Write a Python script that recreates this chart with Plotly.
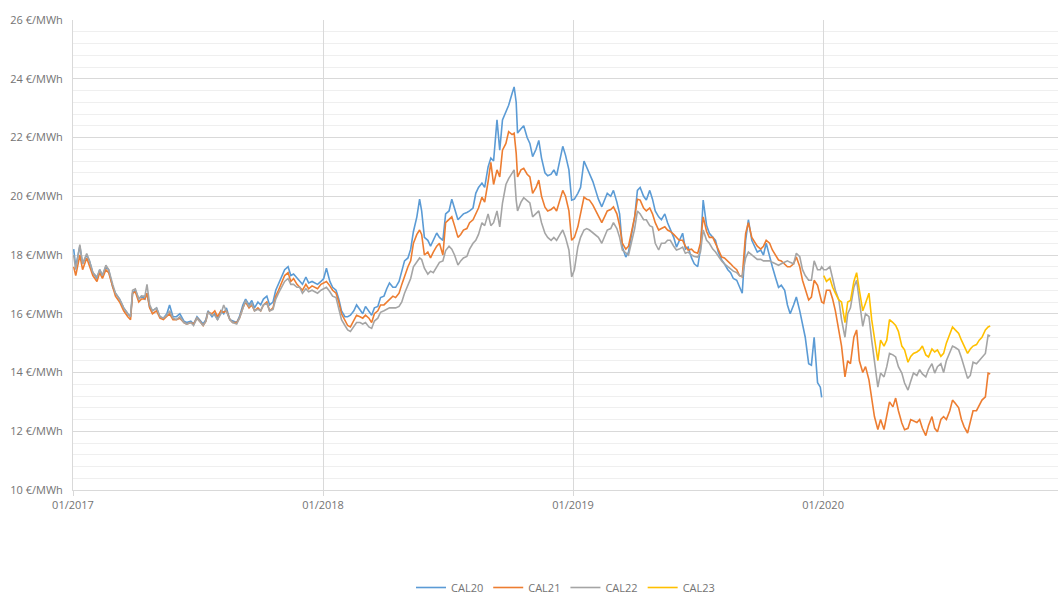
import plotly.graph_objects as go

# ---------------- data ----------------
dates_2017 = [
    "2017-01-02", "2017-01-05", "2017-01-11", "2017-01-15", "2017-01-21", "2017-01-25", "2017-01-30", "2017-02-05", "2017-02-09", "2017-02-13",
    "2017-02-18", "2017-02-22", "2017-02-28", "2017-03-04", "2017-03-10", "2017-03-16", "2017-03-22", "2017-03-26", "2017-03-29", "2017-04-02",
    "2017-04-07", "2017-04-11", "2017-04-16", "2017-04-19", "2017-04-23", "2017-04-27", "2017-05-03", "2017-05-08", "2017-05-13", "2017-05-18",
    "2017-05-22", "2017-05-27", "2017-06-01", "2017-06-06", "2017-06-12", "2017-06-16", "2017-06-22", "2017-06-26", "2017-07-01", "2017-07-05",
    "2017-07-10", "2017-07-14", "2017-07-17", "2017-07-23", "2017-07-27", "2017-07-31", "2017-08-05", "2017-08-09", "2017-08-13", "2017-08-18",
    "2017-08-22", "2017-08-28", "2017-09-01", "2017-09-06", "2017-09-10", "2017-09-15", "2017-09-19", "2017-09-23", "2017-09-28", "2017-10-02",
    "2017-10-06", "2017-10-11", "2017-10-15", "2017-10-20", "2017-10-24", "2017-10-28", "2017-11-02", "2017-11-06", "2017-11-11", "2017-11-15",
    "2017-11-19", "2017-11-24", "2017-11-28", "2017-12-02", "2017-12-07", "2017-12-11", "2017-12-16", "2017-12-20", "2017-12-24", "2017-12-29",
]
cal20_2017 = [
    18.2, 17.6, 18.3, 17.7, 18.0, 17.8, 17.4, 17.2, 17.5, 17.3,
    17.6, 17.5, 16.9, 16.7, 16.5, 16.2, 16.0, 15.9, 16.7, 16.8,
    16.5, 16.6, 16.5, 16.7, 16.2, 16.1, 16.2, 15.9, 15.85, 16.0,
    16.3, 15.9, 15.9, 16.0, 15.75, 15.7, 15.75, 15.65, 15.9, 15.8,
    15.65, 15.8, 16.1, 15.9, 16.0, 15.8, 16.1, 16.0, 16.2, 15.8,
    15.75, 15.7, 15.9, 16.3, 16.5, 16.3, 16.45, 16.2, 16.4, 16.3,
    16.5, 16.6, 16.3, 16.4, 16.8, 17.0, 17.3, 17.5, 17.6, 17.3,
    17.35, 17.2, 17.1, 17.0, 17.25, 17.05, 17.1, 17.05, 17.0, 17.1,
]
cal21_2017 = [
    17.6, 17.3, 18.0, 17.5, 17.9, 17.6, 17.3, 17.1, 17.4, 17.2,
    17.5, 17.4, 16.9, 16.6, 16.4, 16.1, 15.9, 15.8, 16.7, 16.75,
    16.4, 16.5, 16.5, 16.7, 16.2, 16.0, 16.1, 15.85, 15.8, 15.9,
    16.0, 15.8, 15.8, 15.85, 15.7, 15.65, 15.7, 15.65, 15.85, 15.75,
    15.6, 15.75, 16.05, 16.0, 16.1, 15.9, 16.1, 16.05, 16.1, 15.8,
    15.7, 15.7, 15.85, 16.2, 16.4, 16.2, 16.3, 16.1, 16.2, 16.1,
    16.3, 16.4, 16.1, 16.2, 16.6, 16.8, 17.1, 17.3, 17.4, 17.1,
    17.2, 17.0, 16.9, 16.8, 17.0, 16.85, 16.95, 16.9, 16.85, 17.0,
]
cal22_2017 = [
    18.0, 17.5, 18.35, 17.7, 18.05, 17.8, 17.4, 17.25, 17.5, 17.3,
    17.65, 17.5, 17.0, 16.7, 16.5, 16.2, 16.0, 15.9, 16.8, 16.85,
    16.5, 16.6, 16.6, 17.0, 16.3, 16.1, 16.2, 15.9, 15.85, 15.95,
    16.1, 15.85, 15.8, 15.9, 15.7, 15.65, 15.7, 15.6, 15.85, 15.75,
    15.6, 15.75, 16.05, 15.95, 15.95, 15.8, 16.0, 16.3, 16.1, 15.8,
    15.7, 15.65, 15.85, 16.2, 16.45, 16.25, 16.35, 16.1, 16.15, 16.1,
    16.3, 16.35, 16.1, 16.15, 16.5, 16.7, 16.9, 17.1, 17.2, 17.0,
    17.0, 16.9, 16.9, 16.7, 16.85, 16.75, 16.8, 16.75, 16.7, 16.8,
]

dates_2018 = [
    "2018-01-02", "2018-01-06", "2018-01-11", "2018-01-15", "2018-01-20", "2018-01-24", "2018-01-28", "2018-02-02", "2018-02-06", "2018-02-10",
    "2018-02-15", "2018-02-19", "2018-02-24", "2018-02-28", "2018-03-04", "2018-03-09", "2018-03-13", "2018-03-17", "2018-03-22", "2018-03-26",
    "2018-03-31", "2018-04-04", "2018-04-08", "2018-04-13", "2018-04-17", "2018-04-22", "2018-04-26", "2018-04-30", "2018-05-05", "2018-05-09",
    "2018-05-13", "2018-05-18", "2018-05-22", "2018-05-25", "2018-05-29", "2018-06-03", "2018-06-07", "2018-06-11", "2018-06-16", "2018-06-20",
    "2018-06-25", "2018-06-29", "2018-07-04", "2018-07-08", "2018-07-12", "2018-07-17", "2018-07-21", "2018-07-25", "2018-07-30", "2018-08-03",
    "2018-08-08", "2018-08-12", "2018-08-16", "2018-08-21", "2018-08-25", "2018-08-30", "2018-09-03", "2018-09-07", "2018-09-12", "2018-09-16",
    "2018-09-20", "2018-09-25", "2018-09-29", "2018-10-04", "2018-10-07", "2018-10-10", "2018-10-12", "2018-10-17", "2018-10-21", "2018-10-26",
    "2018-10-30", "2018-11-03", "2018-11-08", "2018-11-12", "2018-11-16", "2018-11-21", "2018-11-25", "2018-11-30", "2018-12-04", "2018-12-08",
    "2018-12-13", "2018-12-17", "2018-12-21", "2018-12-26", "2018-12-30",
]
cal20_2018 = [
    17.2, 17.55, 17.1, 16.9, 16.8, 16.5, 16.1, 15.9, 15.9, 15.95,
    16.1, 16.3, 16.15, 16.0, 16.25, 16.1, 15.95, 16.2, 16.25, 16.55,
    16.6, 16.85, 17.05, 16.9, 16.9, 17.1, 17.5, 17.8, 17.9, 18.2,
    18.8, 19.3, 19.9, 19.5, 18.6, 18.5, 18.3, 18.5, 18.75, 18.6,
    18.5, 19.4, 19.5, 19.9, 19.6, 19.2, 19.3, 19.4, 19.45, 19.5,
    19.6, 20.1, 20.3, 20.45, 20.3, 21.0, 21.3, 21.2, 22.6, 21.57,
    22.6, 22.9, 23.1, 23.5, 23.72, 23.2, 22.15, 22.3, 22.4, 22.0,
    21.8, 21.35, 21.6, 21.9, 21.3, 20.8, 20.7, 20.75, 20.9, 20.7,
    21.3, 21.7, 21.4, 20.9, 19.87,
]
cal21_2018 = [
    17.05, 17.1, 16.95, 16.8, 16.7, 16.4, 16.0, 15.75, 15.6, 15.55,
    15.8, 15.95, 15.9, 15.85, 15.95, 15.85, 15.7, 16.0, 16.1, 16.3,
    16.3, 16.4, 16.5, 16.6, 16.55, 16.7, 17.0, 17.3, 17.6, 17.8,
    18.4, 18.7, 18.85, 18.7, 18.0, 18.1, 17.9, 18.1, 18.3, 18.4,
    18.0, 19.1, 19.2, 19.3, 19.0, 18.6, 18.7, 18.85, 18.9, 19.1,
    19.2, 19.4, 19.6, 19.97, 19.8, 20.5, 21.15, 20.4, 20.9, 20.66,
    21.57, 21.8, 22.2, 22.1, 22.15, 21.47, 20.66, 20.9, 20.95, 20.75,
    20.66, 20.1, 20.3, 20.55, 20.0, 19.63, 19.5, 19.55, 19.63, 19.5,
    19.9, 20.2, 20.0, 19.5, 18.5,
]
cal22_2018 = [
    16.85, 16.9, 16.75, 16.6, 16.55, 16.2, 15.8, 15.6, 15.45, 15.4,
    15.55, 15.7, 15.7, 15.65, 15.7, 15.55, 15.5, 15.75, 15.85, 16.05,
    16.1, 16.15, 16.2, 16.2, 16.2, 16.25, 16.4, 16.7, 17.0, 17.2,
    17.6, 17.75, 17.9, 17.85, 17.55, 17.35, 17.45, 17.4, 17.6, 17.75,
    17.8, 18.15, 18.3, 18.2, 18.0, 17.66, 17.8, 17.9, 17.95, 18.2,
    18.4, 18.5, 18.7, 19.1, 19.0, 19.4, 19.0, 19.1, 19.5, 18.96,
    19.77, 20.4, 20.6, 20.8, 20.9, 19.87, 19.5, 19.8, 19.95, 19.85,
    19.77, 19.3, 19.4, 19.5, 19.1, 18.74, 18.6, 18.5, 18.6, 18.5,
    18.7, 18.85, 18.6, 18.17, 17.25,
]

dates_2019 = [
    "2019-01-03", "2019-01-08", "2019-01-12", "2019-01-17", "2019-01-21", "2019-01-25", "2019-01-30", "2019-02-03", "2019-02-07", "2019-02-12",
    "2019-02-16", "2019-02-20", "2019-02-25", "2019-03-01", "2019-03-06", "2019-03-10", "2019-03-14", "2019-03-19", "2019-03-23", "2019-03-27",
    "2019-04-01", "2019-04-05", "2019-04-09", "2019-04-14", "2019-04-18", "2019-04-23", "2019-04-27", "2019-05-01", "2019-05-06", "2019-05-10",
    "2019-05-15", "2019-05-19", "2019-05-23", "2019-05-28", "2019-06-01", "2019-06-05", "2019-06-10", "2019-06-14", "2019-06-18", "2019-06-23",
    "2019-06-27", "2019-07-02", "2019-07-06", "2019-07-10", "2019-07-15", "2019-07-19", "2019-07-24", "2019-07-28", "2019-08-01", "2019-08-06",
    "2019-08-10", "2019-08-15", "2019-08-19", "2019-08-23", "2019-08-28", "2019-09-01", "2019-09-05", "2019-09-10", "2019-09-14", "2019-09-19",
    "2019-09-23", "2019-09-27", "2019-10-02", "2019-10-06", "2019-10-10", "2019-10-15", "2019-10-19", "2019-10-24", "2019-10-28", "2019-11-01",
    "2019-11-06", "2019-11-10", "2019-11-14", "2019-11-19", "2019-11-23", "2019-11-28", "2019-12-02", "2019-12-06", "2019-12-11", "2019-12-15",
    "2019-12-19", "2019-12-24", "2019-12-28", "2019-12-30",
]
cal20_2019 = [
    19.9, 20.1, 20.3, 21.2, 21.0, 20.8, 20.5, 20.2, 19.9, 19.64,
    19.9, 20.1, 20.0, 20.2, 19.8, 19.4, 18.27, 17.93, 18.1, 18.6,
    19.3, 20.2, 20.3, 20.0, 19.87, 20.2, 19.9, 19.5, 19.3, 19.2,
    19.4, 19.1, 18.9, 18.6, 18.27, 18.5, 18.74, 18.2, 18.27, 17.9,
    17.7, 17.6, 18.2, 19.87, 19.0, 18.74, 18.6, 18.5, 18.1, 17.83,
    17.7, 17.5, 17.4, 17.2, 17.14, 16.9, 16.7, 18.5, 19.2, 18.5,
    18.3, 18.1, 18.17, 18.0, 18.4, 17.9, 17.6, 17.2, 16.9, 16.97,
    16.8, 16.3, 16.0, 16.3, 16.57, 16.1, 15.7, 15.2, 14.3, 14.25,
    15.2, 13.65, 13.5, 13.15,
]
cal21_2019 = [
    18.6, 18.96, 19.4, 19.97, 19.9, 19.87, 19.7, 19.5, 19.3, 19.1,
    19.3, 19.5, 19.55, 19.64, 19.4, 19.0, 18.4, 18.2, 18.3, 18.74,
    19.3, 19.9, 19.87, 19.6, 19.5, 19.6, 19.4, 19.1, 18.85, 18.9,
    18.96, 18.85, 18.8, 18.7, 18.6, 18.5, 18.5, 18.3, 18.17, 18.2,
    18.1, 18.06, 18.4, 19.3, 18.8, 18.6, 18.6, 18.4, 18.2, 17.93,
    17.9, 17.8, 17.7, 17.6, 17.5, 17.3, 17.26, 18.74, 19.1, 18.6,
    18.45, 18.3, 18.2, 18.3, 18.5, 18.4, 18.17, 18.0, 17.83, 17.8,
    17.7, 17.6, 17.6, 17.7, 17.93, 17.6, 17.14, 16.8, 16.47, 16.57,
    17.14, 16.97, 16.6, 16.4,
]
cal22_2019 = [
    17.5, 18.27, 18.6, 18.85, 18.9, 18.85, 18.75, 18.7, 18.6, 18.4,
    18.6, 18.85, 18.9, 19.1, 18.9, 18.6, 18.17, 18.06, 18.0, 18.4,
    18.9, 19.5, 19.4, 19.2, 19.2, 19.0, 18.95, 18.4, 18.17, 18.4,
    18.4, 18.5, 18.5, 18.3, 18.17, 18.2, 18.27, 18.06, 18.1, 18.0,
    17.95, 17.93, 18.1, 18.85, 18.5, 18.4, 18.2, 18.1, 17.95, 17.8,
    17.7, 17.6, 17.5, 17.45, 17.4, 17.3, 17.26, 17.9, 18.1, 18.0,
    17.9, 17.85, 17.85, 17.8, 17.8, 17.8, 17.75, 17.7, 17.65, 17.7,
    17.75, 17.8, 17.75, 17.7, 18.06, 17.94, 17.5, 17.3, 17.14, 17.14,
    17.8, 17.5, 17.5, 17.6,
]

dates_2020 = [
    "2020-01-02", "2020-01-06", "2020-01-11", "2020-01-15", "2020-01-19", "2020-01-24", "2020-01-28", "2020-02-02", "2020-02-06", "2020-02-10",
    "2020-02-15", "2020-02-19", "2020-02-23", "2020-02-28", "2020-03-03", "2020-03-08", "2020-03-12", "2020-03-16", "2020-03-21", "2020-03-25",
    "2020-03-30", "2020-04-03", "2020-04-07", "2020-04-12", "2020-04-16", "2020-04-20", "2020-04-25", "2020-04-29", "2020-05-04", "2020-05-08",
    "2020-05-12", "2020-05-17", "2020-05-21", "2020-05-25", "2020-05-30", "2020-06-03", "2020-06-08", "2020-06-12", "2020-06-16", "2020-06-21",
    "2020-06-25", "2020-06-29", "2020-07-04", "2020-07-08", "2020-07-12", "2020-07-17", "2020-07-21", "2020-07-25", "2020-07-30", "2020-08-03",
    "2020-08-07", "2020-08-12", "2020-08-16", "2020-08-20", "2020-08-25", "2020-08-29", "2020-09-01",
]
cal21_2020 = [
    16.36, 16.8, 16.8, 16.5, 16.1, 15.45, 14.9, 13.85, 14.4, 14.3,
    15.2, 15.45, 14.4, 14.0, 14.2, 13.75, 13.06, 12.5, 12.06, 12.4,
    12.06, 12.5, 13.0, 12.83, 13.13, 12.7, 12.28, 12.05, 12.1, 12.4,
    12.35, 12.3, 12.4, 12.1, 11.85, 12.2, 12.5, 12.1, 11.98, 12.4,
    12.5, 12.4, 12.7, 13.06, 12.95, 12.8, 12.4, 12.15, 11.94, 12.3,
    12.7, 12.7, 12.9, 13.06, 13.17, 13.98, 13.95,
]
cal22_2020 = [
    17.5, 17.5, 17.6, 17.2, 16.8, 16.47, 15.8, 15.2, 16.0, 16.2,
    16.9, 17.14, 16.47, 15.57, 16.0, 15.9, 15.1, 14.4, 13.5, 13.98,
    13.85, 14.2, 14.65, 14.6, 14.53, 14.2, 13.98, 13.64, 13.4, 13.7,
    13.98, 13.9, 14.1, 13.95, 13.85, 14.1, 14.3, 13.98, 14.2, 14.3,
    14.0, 14.4, 14.65, 14.9, 14.85, 14.77, 14.5, 14.2, 13.8, 13.9,
    14.35, 14.3, 14.4, 14.53, 14.65, 15.27, 15.24,
]
cal23_2020 = [
    17.3, 17.1, 17.2, 16.9, 16.7, 16.47, 16.4, 15.7, 16.4, 16.45,
    17.1, 17.4, 16.8, 16.1, 16.36, 16.7, 15.8, 15.1, 14.4, 15.1,
    14.9, 15.1, 15.8, 15.7, 15.6, 15.4, 14.9, 14.77, 14.35, 14.55,
    14.65, 14.7, 14.77, 14.9, 14.6, 14.53, 14.8, 14.7, 14.77, 14.55,
    14.65, 15.0, 15.3, 15.55, 15.45, 15.33, 15.1, 14.9, 14.65, 14.8,
    14.9, 14.95, 15.1, 15.2, 15.45, 15.55, 15.58,
]

series_names = ["CAL20", "CAL21", "CAL22", "CAL23"]
y_tickvals = [10, 12, 14, 16, 18, 20, 22, 24, 26]
y_ticktext = [f"{v} €/MWh" for v in y_tickvals]

# ---------------- assemble ----------------
dates_hist = dates_2017 + dates_2018 + dates_2019
series = [
    (series_names[0], dates_hist, cal20_2017 + cal20_2018 + cal20_2019, "#5B9BD5"),
    (series_names[1], dates_hist + dates_2020, cal21_2017 + cal21_2018 + cal21_2019 + cal21_2020, "#ED7D31"),
    (series_names[2], dates_hist + dates_2020, cal22_2017 + cal22_2018 + cal22_2019 + cal22_2020, "#A5A5A5"),
    (series_names[3], dates_2020, cal23_2020, "#FFC000"),
]

fig = go.Figure()
for name, x, y, color in series:
    fig.add_trace(go.Scatter(x=x, y=y, name=name, mode="lines",
                             line=dict(color=color, width=1.6)))

font_color = "#737373"
fig.update_layout(
    width=1060, height=602,
    margin=dict(l=73, r=2, t=20, b=112, autoexpand=False),
    plot_bgcolor="white", paper_bgcolor="white",
    font=dict(family="Open Sans, sans-serif", size=11, color=font_color),
    showlegend=True,
    legend=dict(orientation="h", x=0.5, xanchor="center",
                yref="container", y=-4 / 602, yanchor="bottom",
                font=dict(size=11, color=font_color), itemwidth=30),
)
fig.update_xaxes(
    type="date",
    range=["2017-01-01", "2020-12-09"],
    tick0="2017-01-01", dtick="M12", tickformat="%m/%Y",
    showgrid=True, gridcolor="#d9d9d9", gridwidth=1,
    showline=True, linecolor="#d9d9d9", linewidth=1,
    ticks="outside", ticklen=5, tickcolor="#d9d9d9",
    zeroline=False, automargin=False,
)
fig.update_yaxes(
    range=[10, 26], tickmode="array", tickvals=y_tickvals, ticktext=y_ticktext,
    showgrid=True, gridcolor="#d9d9d9", gridwidth=1,
    minor=dict(dtick=0.4, tick0=10, showgrid=True, gridcolor="#efefef", gridwidth=1),
    showline=True, linecolor="#d9d9d9", linewidth=1,
    zeroline=False, ticks="", automargin=False, ticklabelstandoff=7,
)

# remove the page's default body margin so the 1060x602 figure sits at (0, 0)
page_fix = ("document.documentElement.style.overflow='hidden';"
            "document.body.style.margin='0px';"
            "document.body.style.overflow='hidden';")
fig.write_html("out.html", post_script=page_fix, config={"displayModeBar": False})
